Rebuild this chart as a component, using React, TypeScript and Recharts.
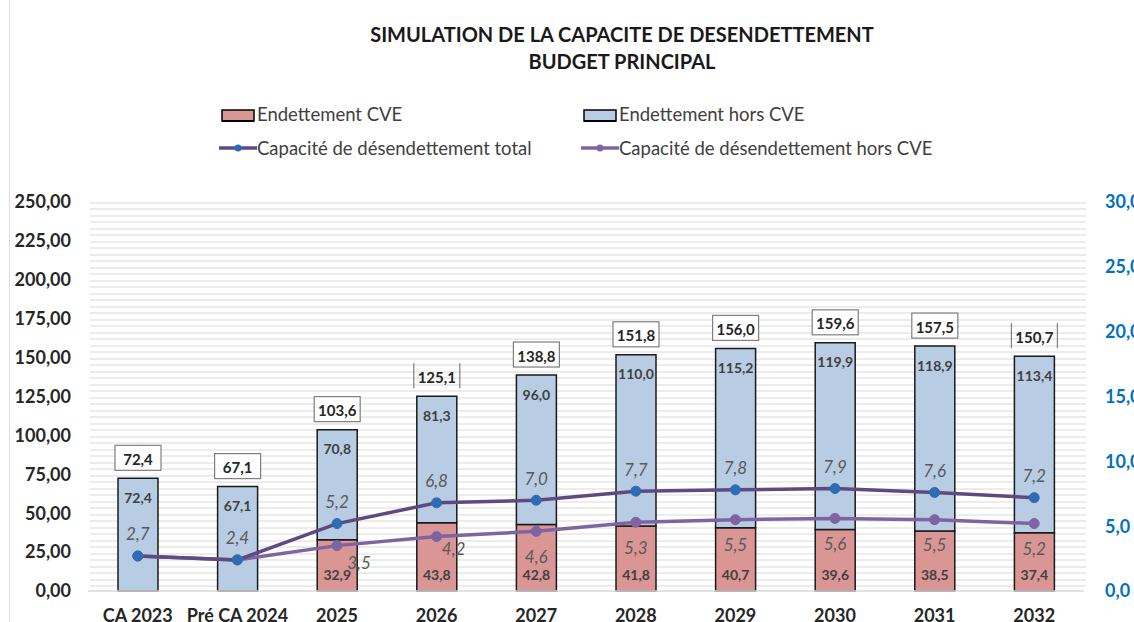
import React from 'react';
import { ComposedChart, Bar, Line, XAxis, YAxis, LabelList } from 'recharts';

const categories = ['CA 2023', 'Pré CA 2024', '2025', '2026', '2027', '2028', '2029', '2030', '2031', '2032'];
const endettementCVE = [0, 0, 32.9, 43.8, 42.8, 41.8, 40.7, 39.6, 38.5, 37.4];
const endettementHorsCVE = [72.4, 67.1, 70.8, 81.3, 96.0, 110.0, 115.2, 119.9, 118.9, 113.4];
const totals = [72.4, 67.1, 103.6, 125.1, 138.8, 151.8, 156.0, 159.6, 157.5, 150.7];
const capaciteTotal = [2.7, 2.4, 5.2, 6.8, 7.0, 7.7, 7.8, 7.9, 7.6, 7.2];
const capaciteHorsCVE = [2.7, 2.4, 3.5, 4.2, 4.6, 5.3, 5.5, 5.6, 5.5, 5.2];
const leftTicks = [0, 25, 50, 75, 100, 125, 150, 175, 200, 225, 250];
const rightTicks = [0, 5, 10, 15, 20, 25, 30];

const data = categories.map((c, i) => ({
  cat: c,
  cve: endettementCVE[i],
  hors: endettementHorsCVE[i],
  total: totals[i],
  capTot: capaciteTotal[i],
  capHors: capaciteHorsCVE[i],
}));

const FONT = "Lato, 'Liberation Sans', sans-serif";
const fmt1 = (v: number) => v.toFixed(1).replace('.', ',');
const fmt2 = (v: number) => v.toFixed(2).replace('.', ',');

const PINK = '#DA9694';
const BLUE = '#B8CCE4';
const LINE_TOT = '#5F4A80';
const DOT_TOT = '#2E6DB4';
const LINE_HORS = '#8064A2';

const HorsLabel = (p: any) => {
  const { x, y, width, value } = p;
  if (!value) return null;
  return (
    <text x={x + width / 2} y={y + 19} textAnchor="middle" dominantBaseline="central"
      fontFamily={FONT} fontWeight={700} fontSize={14} fill="#404040">{fmt1(value)}</text>
  );
};

const CveLabel = (p: any) => {
  const { x, y, width, height, value } = p;
  if (!value) return null;
  return (
    <text x={x + width / 2} y={y + height - 17} textAnchor="middle" dominantBaseline="central"
      fontFamily={FONT} fontWeight={700} fontSize={14} fill="#404040">{fmt1(value)}</text>
  );
};

const TotalLabel = (p: any) => {
  const { x, y, width, value, index } = p;
  const cx = x + width / 2;
  const bw = 46;
  const bh = 25;
  const top = y - 8 - bh;
  const sideOnly = categories[index] === '2026' || categories[index] === '2032';
  return (
    <g>
      {sideOnly ? (
        <g stroke="#7f7f7f" strokeWidth={1.2}>
          <line x1={cx - bw / 2} y1={top} x2={cx - bw / 2} y2={top + bh} />
          <line x1={cx + bw / 2} y1={top} x2={cx + bw / 2} y2={top + bh} />
        </g>
      ) : (
        <rect x={cx - bw / 2} y={top} width={bw} height={bh} fill="#fff" stroke="#7f7f7f" strokeWidth={1.2} />
      )}
      <text x={cx} y={top + bh / 2 + 1} textAnchor="middle" dominantBaseline="central"
        fontFamily={FONT} fontWeight={700} fontSize={15} fill="#262626">{fmt1(value)}</text>
    </g>
  );
};

const CapTotLabel = (p: any) => {
  const { x, y, value } = p;
  return (
    <text x={x} y={y - 22} textAnchor="middle" dominantBaseline="central"
      fontFamily={FONT} fontStyle="italic" fontSize={17} fill="#595959">{fmt1(value)}</text>
  );
};

const CapHorsLabel = (p: any) => {
  const { x, y, value, index } = p;
  if (index < 2) return null;
  let dx = 0;
  let dy = 25;
  if (index === 2) { dx = 22; dy = 17; }
  if (index === 3) { dx = 17; dy = 12; }
  return (
    <text x={x + dx} y={y + dy} textAnchor="middle" dominantBaseline="central"
      fontFamily={FONT} fontStyle="italic" fontSize={17} fill="#595959">{fmt1(value)}</text>
  );
};

const legendText: React.CSSProperties = {
  position: 'absolute', fontFamily: FONT, fontSize: 18.5, color: '#404040', lineHeight: '22px', whiteSpace: 'nowrap',
};

const BoxSwatch = ({ color }: { color: string }) => (
  <svg width={34} height={13} style={{ display: 'block' }}>
    <rect x={1} y={1} width={32} height={11} fill={color} stroke="#000" strokeWidth={1.5} />
    <line x1={1} y1={12} x2={33} y2={12} stroke="#000" strokeWidth={2} />
  </svg>
);

const LineSwatch = ({ color, dot }: { color: string; dot: string }) => (
  <svg width={38} height={10} style={{ display: 'block' }}>
    <line x1={0} y1={5} x2={38} y2={5} stroke={color} strokeWidth={3.5} />
    <circle cx={19} cy={5} r={3.5} fill={dot} />
  </svg>
);

export default function App() {
  return (
    <div style={{ position: 'absolute', left: 0, top: 0, width: 1134, height: 622, background: '#fff', overflow: 'hidden' }}>
      <div style={{ position: 'absolute', left: 9, top: 0, width: 1, height: 622, background: '#e0e0e0' }} />
      <div style={{
        position: 'absolute', left: 90, top: 202, width: 996, height: 389,
        backgroundImage: 'repeating-linear-gradient(to bottom, #ececec 0px, #ececec 2px, #ffffff 2px, #ffffff 6.5px)',
      }} />
      <div style={{ position: 'absolute', left: 0, top: 21, width: 1244, textAlign: 'center', fontFamily: FONT, fontWeight: 700, fontSize: 20, color: '#1a1a1a', lineHeight: '27px' }}>
        <div>SIMULATION DE LA CAPACITE DE DESENDETTEMENT</div>
        <div>BUDGET PRINCIPAL</div>
      </div>
      <div style={{ position: 'absolute', left: 221, top: 109 }}><BoxSwatch color={PINK} /></div>
      <div style={{ ...legendText, left: 257, top: 103 }}>Endettement CVE</div>
      <div style={{ position: 'absolute', left: 583, top: 109 }}><BoxSwatch color={BLUE} /></div>
      <div style={{ ...legendText, left: 619, top: 103 }}>Endettement hors CVE</div>
      <div style={{ position: 'absolute', left: 219, top: 143 }}><LineSwatch color={LINE_TOT} dot={DOT_TOT} /></div>
      <div style={{ ...legendText, left: 257, top: 137 }}>Capacité de désendettement total</div>
      <div style={{ position: 'absolute', left: 581, top: 143 }}><LineSwatch color={LINE_HORS} dot={LINE_HORS} /></div>
      <div style={{ ...legendText, left: 619, top: 137 }}>Capacité de désendettement hors CVE</div>

      <div style={{ position: 'absolute', left: 0, top: 0 }}>
        <ComposedChart width={1134} height={622} data={data} margin={{ top: 202, right: 0, bottom: 0, left: 0 }} barCategoryGap={0}>
          <XAxis dataKey="cat" height={31} tickLine={false} axisLine={{ stroke: '#d9d9d9', strokeWidth: 1.5 }}
            tickSize={0} tickMargin={18} interval={0}
            tick={{ fontFamily: FONT, fontWeight: 700, fontSize: 18, fill: '#262626' }} />
          <YAxis yAxisId="left" domain={[0, 250]} ticks={leftTicks} width={88} axisLine={false} tickLine={false}
            tickSize={0} tickMargin={17} tickFormatter={fmt2} interval={0}
            tick={{ fontFamily: FONT, fontWeight: 700, fontSize: 18, fill: '#262626' }} />
          <YAxis yAxisId="right" orientation="right" domain={[0, 30]} ticks={rightTicks} width={50} axisLine={false} tickLine={false}
            tickSize={0} tickMargin={21} tickFormatter={fmt1} interval={0}
            tick={{ fontFamily: FONT, fontWeight: 700, fontSize: 18, fill: '#0070C0', textAnchor: 'start' }} />
          <Bar yAxisId="left" dataKey="cve" stackId="a" fill={PINK} stroke="#1a1a1a" strokeWidth={1.5} barSize={40} isAnimationActive={false}>
            <LabelList dataKey="cve" content={CveLabel} />
          </Bar>
          <Bar yAxisId="left" dataKey="hors" stackId="a" fill={BLUE} stroke="#1a1a1a" strokeWidth={1.5} barSize={40} isAnimationActive={false}>
            <LabelList dataKey="hors" content={HorsLabel} />
            <LabelList dataKey="total" content={TotalLabel} />
          </Bar>
          <Line yAxisId="right" type="linear" dataKey="capHors" stroke={LINE_HORS} strokeWidth={3.5}
            dot={{ r: 5, fill: LINE_HORS, stroke: LINE_HORS, strokeWidth: 1 }} isAnimationActive={false}>
            <LabelList dataKey="capHors" content={CapHorsLabel} />
          </Line>
          <Line yAxisId="right" type="linear" dataKey="capTot" stroke={LINE_TOT} strokeWidth={3.5}
            dot={{ r: 5, fill: DOT_TOT, stroke: DOT_TOT, strokeWidth: 1 }} isAnimationActive={false}>
            <LabelList dataKey="capTot" content={CapTotLabel} />
          </Line>
        </ComposedChart>
      </div>
    </div>
  );
}
